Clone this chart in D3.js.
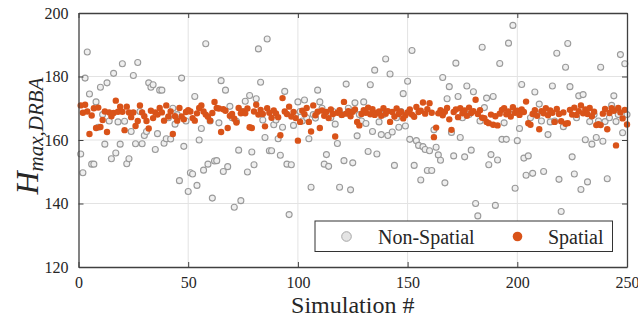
<!DOCTYPE html>
<html>
<head>
<meta charset="utf-8">
<script src="https://cdn.jsdelivr.net/npm/d3@7"></script>
<style>
  body { margin: 0; background: #fff; }
  svg text { font-family: "Liberation Serif", "DejaVu Serif", "Times New Roman", Times, serif; fill: #262626; }
</style>
</head>
<body>
<div id="chart"></div>
<script>
// Non-Spatial values, simulation 1..250
const nonSpatial = [
  155.6,149.7,179.5,187.7,174.5,152.4,152.4,172.0,164.0,176.6,
  168.0,158.7,178.0,166.0,154.1,181.0,155.9,165.7,158.7,184.0,
  165.9,152.5,154.1,162.7,180.3,158.8,184.4,169.0,158.8,161.4,
  162.7,178.0,176.6,177.4,157.0,162.0,175.7,175.7,159.0,160.4,
  167.0,160.3,170.0,165.0,168.0,147.2,179.5,158.0,166.0,143.8,
  149.7,149.3,173.7,145.7,160.0,163.6,150.5,190.3,152.4,166.0,
  141.7,153.4,153.5,165.4,178.7,150.1,175.7,151.6,170.6,167.0,
  138.8,165.9,156.8,140.9,169.0,172.2,149.9,174.0,156.2,152.2,
  173.0,188.7,178.2,166.3,160.8,191.8,156.6,156.6,164.8,166.3,
  160.4,155.2,164.0,175.3,152.4,136.5,152.2,164.6,168.0,172.0,
  169.0,166.0,172.6,167.0,160.4,145.1,168.0,166.9,175.7,172.0,
  170.0,152.4,155.4,151.7,167.0,169.0,165.0,158.9,145.1,168.0,
  153.5,177.6,170.0,144.3,152.8,171.7,161.3,168.0,166.0,172.0,
  165.2,156.4,177.4,162.7,182.0,155.6,165.7,161.7,168.0,185.5,
  161.4,180.8,162.5,152.0,167.0,164.0,169.0,174.6,164.4,178.5,
  160.2,188.2,152.0,159.8,158.3,147.4,157.9,157.0,150.4,156.6,
  150.4,163.2,157.7,155.3,153.6,179.7,146.5,173.0,176.8,162.4,
  155.0,184.2,173.7,160.8,167.0,154.7,177.0,168.0,156.8,175.2,
  140.0,136.1,166.0,189.2,170.2,173.2,152.2,155.4,173.7,139.4,
  153.7,184.1,160.2,165.4,160.2,190.5,168.0,196.1,144.8,159.8,
  163.6,177.5,154.3,148.9,155.0,167.0,149.5,175.1,168.0,171.3,
  166.0,150.1,169.0,161.7,165.7,177.0,166.0,187.3,147.6,137.5,
  164.2,182.9,190.4,176.8,154.7,149.3,167.0,173.9,144.4,174.3,
  160.1,146.8,165.8,158.7,168.0,160.8,166.0,182.9,159.6,165.8,
  147.8,167.0,170.9,173.9,165.8,168.0,186.9,162.3,184.0,168.0
];

// Spatial values, simulation 1..250
const spatial = [
  170.9,168.6,171.1,169.0,161.9,167.7,170.0,163.8,170.2,164.1,
  166.3,169.0,162.5,168.7,167.5,168.5,172.4,168.9,170.5,168.9,
  163.1,170.5,168.7,167.2,168.7,164.4,166.0,170.9,168.7,167.5,
  166.0,163.6,169.2,166.9,168.7,168.0,170.1,168.7,166.1,170.9,
  167.4,169.0,161.9,167.5,166.1,170.1,167.4,166.5,168.8,169.4,
  169.0,166.9,166.1,168.4,170.1,170.9,169.0,168.0,167.3,166.1,
  168.5,172.0,170.1,169.9,162.5,169.7,169.2,163.8,167.6,168.2,
  166.7,165.5,170.1,168.4,169.0,168.4,169.9,164.0,163.8,169.0,
  171.1,168.0,169.5,168.2,164.3,170.0,168.6,167.0,169.3,168.4,
  167.2,161.5,173.2,169.0,168.2,170.5,167.4,168.8,166.9,159.8,
  165.7,169.2,168.1,170.1,165.7,162.7,170.9,167.8,168.9,163.8,
  169.3,167.6,168.8,166.9,169.6,168.2,161.1,168.6,169.4,167.9,
  172.0,168.3,169.1,167.5,168.9,169.6,165.7,164.6,168.2,169.4,
  168.6,170.2,168.1,169.7,167.9,168.5,169.0,167.6,170.0,168.3,
  169.1,165.7,168.8,167.4,169.9,168.2,168.9,166.8,167.8,168.7,
  169.6,168.0,167.3,170.4,168.8,169.2,171.8,168.3,169.7,171.6,
  168.6,160.9,163.9,168.4,169.4,167.8,168.9,170.1,166.5,163.2,
  168.8,169.6,167.2,170.0,168.4,169.3,167.6,170.2,168.5,169.1,
  172.7,168.2,169.4,167.0,166.9,165.7,165.3,168.0,164.8,167.5,
  164.6,168.3,169.5,170.0,168.1,169.0,167.4,170.3,168.6,169.2,
  167.9,169.6,168.8,172.1,165.3,164.8,168.2,169.4,167.6,163.4,
  169.1,168.4,170.0,167.8,169.3,168.6,165.7,169.8,168.2,165.9,
  168.7,165.1,165.3,169.5,168.0,170.2,167.9,169.1,170.9,168.4,
  169.6,168.2,170.1,167.5,168.9,164.7,165.0,164.7,168.3,169.8,
  163.4,168.5,170.0,169.2,158.3,170.1,168.7,166.8,169.5,164.9
];

const xTicks = [0, 50, 100, 150, 200, 250];
const yTicks = [120, 140, 160, 180, 200];
const seriesNames = ["Non-Spatial", "Spatial"];

const serif = '"Liberation Serif", "DejaVu Serif", "Times New Roman", Times, serif';

const W = 638, H = 322;
const margin = {top: 13, right: 11, bottom: 55, left: 78.5};
const width = W - margin.left - margin.right;
const height = H - margin.top - margin.bottom;

const svg = d3.select("#chart").append("svg")
  .attr("width", W)
  .attr("height", H);

const g = svg.append("g")
  .attr("transform", "translate(" + margin.left + "," + margin.top + ")");

const x = d3.scaleLinear().domain([0, 250]).range([0, width]);
const y = d3.scaleLinear().domain([120, 200]).range([height, 0]);

// grid
g.append("g").selectAll("line.gx")
  .data(xTicks.slice(1, -1)).enter().append("line")
  .attr("x1", d => x(d)).attr("x2", d => x(d))
  .attr("y1", 0).attr("y2", height)
  .attr("stroke", "#e3e3e3").attr("stroke-width", 1);
g.append("g").selectAll("line.gy")
  .data(yTicks.slice(1, -1)).enter().append("line")
  .attr("x1", 0).attr("x2", width)
  .attr("y1", d => y(d)).attr("y2", d => y(d))
  .attr("stroke", "#e3e3e3").attr("stroke-width", 1);

// points, gray first, orange on top
g.append("g").selectAll("circle")
  .data(nonSpatial).enter().append("circle")
  .attr("cx", (d, i) => x(i + 1))
  .attr("cy", d => y(d))
  .attr("r", 3)
  .attr("fill", "#efefef")
  .attr("stroke", "#9a9a9a")
  .attr("stroke-width", 1.1);

g.append("g").selectAll("circle")
  .data(spatial).enter().append("circle")
  .attr("cx", (d, i) => x(i + 1))
  .attr("cy", d => y(d))
  .attr("r", 3.2)
  .attr("fill", "#d95319");

// axes, ticks inside
const axisColor = "#404040";
const xb = g.append("g").attr("transform", "translate(0," + height + ")")
  .call(d3.axisBottom(x).tickValues(xTicks).tickSizeInner(-5).tickSizeOuter(0).tickPadding(10));
const xt = g.append("g")
  .call(d3.axisTop(x).tickValues(xTicks).tickSizeInner(-5).tickSizeOuter(0).tickFormat(""));
const yl = g.append("g")
  .call(d3.axisLeft(y).tickValues(yTicks).tickSizeInner(-5).tickSizeOuter(0).tickPadding(10));
const yr = g.append("g").attr("transform", "translate(" + width + ",0)")
  .call(d3.axisRight(y).tickValues(yTicks).tickSizeInner(-5).tickSizeOuter(0).tickFormat(""));

[xb, xt, yl, yr].forEach(a => {
  a.attr("font-family", serif);
  a.select(".domain").attr("stroke", axisColor).attr("stroke-width", 1.3);
  a.selectAll(".tick line").attr("stroke", axisColor);
  a.selectAll(".tick text")
    .attr("font-family", serif)
    .attr("font-size", 16)
    .attr("fill", "#333");
});

// axis labels
svg.append("text")
  .attr("x", margin.left + width / 2)
  .attr("y", 313)
  .attr("text-anchor", "middle")
  .attr("font-family", serif)
  .attr("font-size", 24)
  .text("Simulation #");

const yLab = svg.append("text")
  .attr("transform", "translate(38,136) rotate(-90)")
  .attr("text-anchor", "middle")
  .attr("font-family", serif)
  .attr("font-style", "italic");
yLab.append("tspan").attr("font-size", 32).text("H");
yLab.append("tspan").attr("dy", 5).attr("font-size", 21).text("max,DRBA");

// legend
const leg = svg.append("g").attr("font-family", serif);
leg.append("rect")
  .attr("x", 315).attr("y", 221)
  .attr("width", 297.5).attr("height", 30.5)
  .attr("fill", "#fff")
  .attr("stroke", "#333").attr("stroke-width", 1);
leg.append("circle")
  .attr("cx", 346.5).attr("cy", 236.5).attr("r", 4.8)
  .attr("fill", "#e4e4e4").attr("stroke", "#a6a6a6").attr("stroke-width", 1);
leg.append("text")
  .attr("x", 378).attr("y", 243.5)
  .attr("font-size", 20)
  .text(seriesNames[0]);
leg.append("circle")
  .attr("cx", 517.5).attr("cy", 236.5).attr("r", 4.8)
  .attr("fill", "#d95319");
leg.append("text")
  .attr("x", 548).attr("y", 243.5)
  .attr("font-size", 20)
  .text(seriesNames[1]);
</script>
</body>
</html>
